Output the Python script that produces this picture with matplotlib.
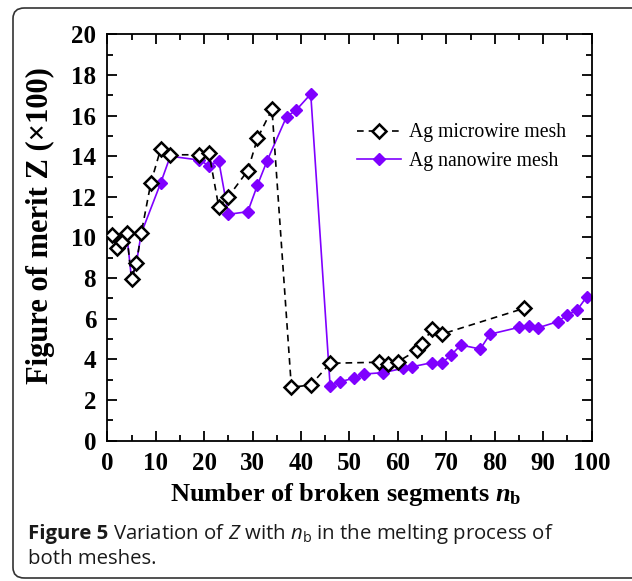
import matplotlib
matplotlib.use("Agg")
import matplotlib.pyplot as plt
from matplotlib.patches import FancyBboxPatch

# Ag microwire mesh (hollow black diamonds, dashed)
n_micro = [1, 2, 3, 4, 5, 6, 7, 9, 11, 13, 19, 21, 23, 25, 29, 31, 34,
           38, 42, 46, 56, 58, 60, 64, 65, 67, 69, 86]
z_micro = [10.12, 9.47, 9.79, 10.2, 7.96, 8.73, 10.2, 12.7, 14.34, 14.07, 14.07, 14.14,
           11.52, 12.01, 13.29, 14.88, 16.31, 2.63, 2.74, 3.81, 3.86, 3.77, 3.89,
           4.46, 4.76, 5.48, 5.24, 6.51]

# Ag nanowire mesh (filled purple diamonds, solid)
n_nano = [1, 2, 3, 4, 5, 6, 7, 11, 13, 19, 21, 23, 25, 29, 31, 33, 37, 39, 42,
          46, 48, 51, 53, 57, 61, 63, 67, 69, 71, 73, 77, 79, 85, 87, 89, 93, 95, 97, 99]
z_nano = [10.12, 9.47, 9.79, 10.2, 7.96, 8.73, 10.2, 12.67, 14.0, 13.81, 13.53, 13.78,
          11.14, 11.27, 12.58, 13.78, 15.94, 16.27, 17.06,
          2.69, 2.9, 3.08, 3.28, 3.35, 3.56, 3.64, 3.84, 3.81, 4.22, 4.71, 4.51, 5.24,
          5.58, 5.64, 5.56, 5.86, 6.19, 6.43, 7.09]

purple = "#7F00FF"

plt.rcParams["mathtext.fontset"] = "custom"
plt.rcParams["mathtext.bf"] = "Liberation Serif:bold"
plt.rcParams["mathtext.it"] = "Liberation Serif:bold:italic"
plt.rcParams["mathtext.rm"] = "Liberation Serif"
plt.rcParams["mathtext.sf"] = "Open Sans:italic"
plt.rcParams["mathtext.tt"] = "Open Sans"

fig = plt.figure(figsize=(6.32, 5.81), dpi=100)
ax = fig.add_axes([0.1698, 0.2415, 0.7664, 0.6995])

ax.plot(n_nano, z_nano, "-", color=purple, lw=1.2, marker="D", ms=6.5,
        mfc=purple, mec=purple, label="Ag nanowire mesh", zorder=2)
ax.plot(n_micro, z_micro, "--", color="black", lw=1.2, dashes=(4, 3), marker="D", ms=7.5,
        mfc="white", mec="black", mew=1.8, label="Ag microwire mesh", zorder=3)

ax.set_xlim(0, 100)
ax.set_ylim(0, 20)
ax.set_xticks(range(0, 101, 10))
ax.set_xticks(range(0, 101, 5), minor=True)
ax.set_yticks(range(0, 21, 2))
ax.set_yticks(range(0, 21, 1), minor=True)
ax.tick_params(which="both", direction="in", top=True, right=True, width=1.3)
ax.tick_params(which="major", length=7, pad=8)
ax.tick_params(which="minor", length=4)
for lab in ax.get_xticklabels() + ax.get_yticklabels():
    lab.set_fontfamily("Liberation Serif")
    lab.set_fontweight("bold")
    lab.set_fontsize(18)
for s in ax.spines.values():
    s.set_linewidth(1.3)

ax.set_xlabel(r"Number of broken segments $\mathit{n}_{\mathbf{b}}$",
              fontfamily="Liberation Serif", fontweight="bold", fontsize=19)
ax.xaxis.set_label_coords(0.493, -0.10)
ax.set_ylabel("Figure of merit Z (×100)",
              fontfamily="Liberation Serif", fontweight="bold", fontsize=22)
ax.yaxis.set_label_coords(-0.107, 0.53)

h, l = ax.get_legend_handles_labels()
ax.legend(h[::-1], l[::-1], loc="upper left", bbox_to_anchor=(0.5, 0.8), frameon=False,
          prop={"family": "Liberation Serif", "size": 14.2}, handlelength=2.2,
          handletextpad=0.4, labelspacing=0.5, borderaxespad=0)

box = FancyBboxPatch((13 / 632, 3 / 581), 640 / 632, 570 / 581,
                     boxstyle="round,pad=0,rounding_size=0.018",
                     transform=fig.transFigure, fill=False, ec="#333333", lw=1.2,
                     clip_on=False)
fig.patches.append(box)

cap_color = "#1a1a1a"
t1 = fig.text(28 / 632, 1 - 534 / 581, "Figure 5", fontfamily="Open Sans",
              fontweight="bold", fontsize=14.7, va="center", color=cap_color)
fig.canvas.draw()
bb = t1.get_window_extent()
fig.text(bb.x1 / 632 + 0.008, 1 - 534 / 581,
         r"Variation of $\mathsf{Z}$ with $\mathsf{n}_{\mathtt{b}}$ in the melting process of",
         fontfamily="Open Sans", fontsize=14.7, va="center", color=cap_color)
fig.text(28 / 632, 1 - 559 / 581, "both meshes.", fontfamily="Open Sans",
         fontsize=14.7, va="center", color=cap_color)

fig.savefig("out.png", dpi=100)
